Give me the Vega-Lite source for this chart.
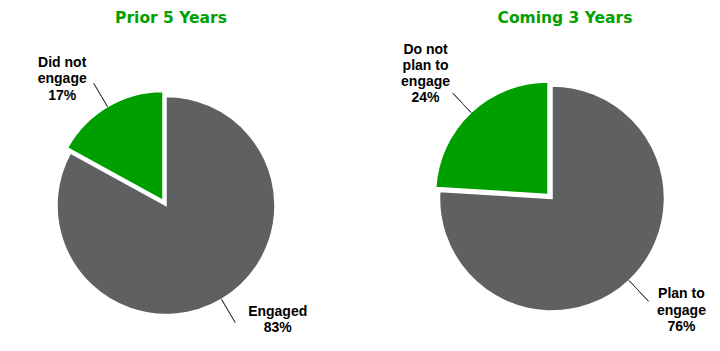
{
  "$schema": "https://vega.github.io/schema/vega-lite/v6.json",
  "padding": {"top": 10, "left": 0, "right": 0, "bottom": 0},
  "spacing": 52,
  "background": "white",
  "config": {
    "view": {"stroke": null},
    "title": {"font": "DejaVu Sans", "fontSize": 15.5, "fontWeight": "bold", "color": "#00A000", "anchor": "middle", "frame": "group", "offset": 6}
  },
  "datasets": {
    "pies": [
      {"period": "Prior 5 Years", "kind": "yes", "value": 83, "label": "Engaged\n83%"},
      {"period": "Prior 5 Years", "kind": "no", "value": 17, "label": "Did not\nengage\n17%"},
      {"period": "Coming 3 Years", "kind": "yes", "value": 76, "label": "Plan to\nengage\n76%"},
      {"period": "Coming 3 Years", "kind": "no", "value": 24, "label": "Do not\nplan to\nengage\n24%"}
    ]
  },
  "hconcat": [
    {
      "width": 332,
      "height": 315,
      "title": {"text": "Prior 5 Years", "dx": 5},
      "data": {"name": "pies"},
      "transform": [{"filter": "datum.period === 'Prior 5 Years'"}],
      "resolve": {"scale": {"theta": "independent", "color": "shared"}},
      "layer": [
        {
          "mark": {"type": "arc", "outerRadius": 109, "stroke": "white", "strokeWidth": 1.5, "yOffset": 16},
          "encoding": {
            "theta": {"field": "value", "type": "quantitative", "stack": true},
            "order": {"field": "kind", "sort": "descending"},
            "color": {"field": "kind", "type": "nominal", "scale": {"domain": ["yes", "no"], "range": ["#5f6062", "#009f00"]}, "legend": null},
            "opacity": {"condition": {"test": "datum.kind === 'yes'", "value": 1}, "value": 0}
          }
        },
        {
          "mark": {"type": "arc", "outerRadius": 109, "stroke": "white", "strokeWidth": 1.5, "xOffset": -3, "yOffset": 11},
          "encoding": {
            "theta": {"field": "value", "type": "quantitative", "stack": true},
            "order": {"field": "kind", "sort": "descending"},
            "color": {"field": "kind", "type": "nominal", "scale": {"domain": ["yes", "no"], "range": ["#5f6062", "#009f00"]}, "legend": null},
            "opacity": {"condition": {"test": "datum.kind === 'no'", "value": 1}, "value": 0}
          }
        },
        {
          "transform": [{"filter": "datum.kind === 'yes'"}],
          "mark": {"type": "arc", "innerRadius": 109, "outerRadius": 136, "stroke": "#404040", "strokeWidth": 1, "fill": null, "yOffset": 16},
          "encoding": {
            "theta": {"field": "value", "type": "quantitative", "stack": false, "scale": {"domain": [0, 100], "range": [0, 3.14159265]}},
            "theta2": {"field": "value"}
          }
        },
        {
          "transform": [{"filter": "datum.kind === 'no'"}],
          "mark": {"type": "arc", "innerRadius": 109, "outerRadius": 136, "stroke": "#404040", "strokeWidth": 1, "fill": null, "xOffset": -3, "yOffset": 11},
          "encoding": {
            "theta": {"field": "value", "type": "quantitative", "stack": false, "scale": {"domain": [0, 100], "range": [0, -3.14159265]}},
            "theta2": {"field": "value"}
          }
        },
        {
          "transform": [{"filter": "datum.kind === 'yes'"}],
          "mark": {"type": "text", "radius": 133, "dx": 44, "dy": -8.25, "yOffset": 16, "align": "center", "baseline": "middle", "lineBreak": "\n", "lineHeight": 16.5, "font": "Liberation Sans", "fontWeight": "bold", "fontSize": 14, "color": "black"},
          "encoding": {
            "theta": {"field": "value", "type": "quantitative", "stack": false, "scale": {"domain": [0, 100], "range": [0, 3.14159265]}},
            "text": {"field": "label"}
          }
        },
        {
          "transform": [{"filter": "datum.kind === 'no'"}],
          "mark": {"type": "text", "radius": 141, "dx": -29, "dy": -16.5, "xOffset": -3, "yOffset": 11, "align": "center", "baseline": "middle", "lineBreak": "\n", "lineHeight": 16.5, "font": "Liberation Sans", "fontWeight": "bold", "fontSize": 14, "color": "black"},
          "encoding": {
            "theta": {"field": "value", "type": "quantitative", "stack": false, "scale": {"domain": [0, 100], "range": [0, -3.14159265]}},
            "text": {"field": "label"}
          }
        }
      ]
    },
    {
      "width": 336,
      "height": 315,
      "title": {"text": "Coming 3 Years", "dx": 13},
      "data": {"name": "pies"},
      "transform": [{"filter": "datum.period === 'Coming 3 Years'"}],
      "resolve": {"scale": {"theta": "independent", "color": "shared"}},
      "layer": [
        {
          "mark": {"type": "arc", "outerRadius": 112.5, "stroke": "white", "strokeWidth": 1.5, "yOffset": 9},
          "encoding": {
            "theta": {"field": "value", "type": "quantitative", "stack": true},
            "order": {"field": "kind", "sort": "descending"},
            "color": {"field": "kind", "type": "nominal", "scale": {"domain": ["yes", "no"], "range": ["#5f6062", "#009f00"]}, "legend": null},
            "opacity": {"condition": {"test": "datum.kind === 'yes'", "value": 1}, "value": 0}
          }
        },
        {
          "mark": {"type": "arc", "outerRadius": 112.5, "stroke": "white", "strokeWidth": 1.5, "xOffset": -4, "yOffset": 5},
          "encoding": {
            "theta": {"field": "value", "type": "quantitative", "stack": true},
            "order": {"field": "kind", "sort": "descending"},
            "color": {"field": "kind", "type": "nominal", "scale": {"domain": ["yes", "no"], "range": ["#5f6062", "#009f00"]}, "legend": null},
            "opacity": {"condition": {"test": "datum.kind === 'no'", "value": 1}, "value": 0}
          }
        },
        {
          "transform": [{"filter": "datum.kind === 'yes'"}],
          "mark": {"type": "arc", "innerRadius": 112.5, "outerRadius": 141, "stroke": "#404040", "strokeWidth": 1, "fill": null, "yOffset": 9},
          "encoding": {
            "theta": {"field": "value", "type": "quantitative", "stack": false, "scale": {"domain": [0, 100], "range": [0, 3.14159265]}},
            "theta2": {"field": "value"}
          }
        },
        {
          "transform": [{"filter": "datum.kind === 'no'"}],
          "mark": {"type": "arc", "innerRadius": 112.5, "outerRadius": 139, "stroke": "#404040", "strokeWidth": 1, "fill": null, "xOffset": -4, "yOffset": 5},
          "encoding": {
            "theta": {"field": "value", "type": "quantitative", "stack": false, "scale": {"domain": [0, 100], "range": [0, -3.14159265]}},
            "theta2": {"field": "value"}
          }
        },
        {
          "transform": [{"filter": "datum.kind === 'yes'"}],
          "mark": {"type": "text", "radius": 154, "dx": 24, "dy": -16.5, "yOffset": 9, "align": "center", "baseline": "middle", "lineBreak": "\n", "lineHeight": 16.5, "font": "Liberation Sans", "fontWeight": "bold", "fontSize": 14, "color": "black"},
          "encoding": {
            "theta": {"field": "value", "type": "quantitative", "stack": false, "scale": {"domain": [0, 100], "range": [0, 3.14159265]}},
            "text": {"field": "label"}
          }
        },
        {
          "transform": [{"filter": "datum.kind === 'no'"}],
          "mark": {"type": "text", "radius": 165, "dx": -9.5, "dy": -24, "xOffset": -4, "yOffset": 5, "align": "center", "baseline": "middle", "lineBreak": "\n", "lineHeight": 16, "font": "Liberation Sans", "fontWeight": "bold", "fontSize": 14, "color": "black"},
          "encoding": {
            "theta": {"field": "value", "type": "quantitative", "stack": false, "scale": {"domain": [0, 100], "range": [0, -3.14159265]}},
            "text": {"field": "label"}
          }
        }
      ]
    }
  ]
}
